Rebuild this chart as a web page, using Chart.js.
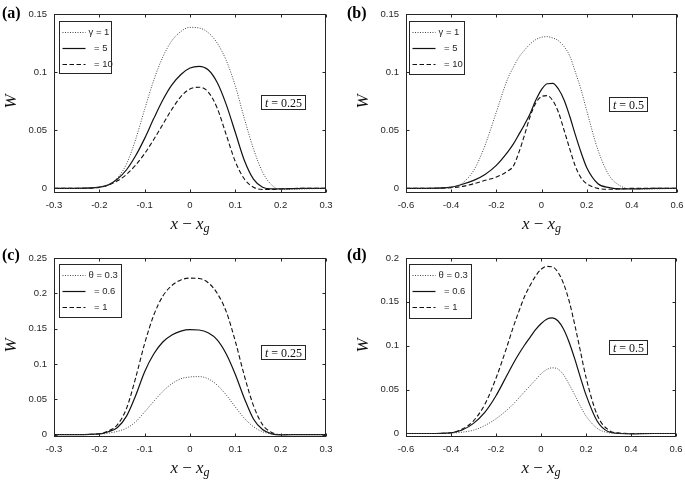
<!DOCTYPE html>
<html lang="en">
<head>
<meta charset="UTF-8">
<title>W profiles</title>
<script src="https://cdn.jsdelivr.net/npm/chart.js"></script>
<style>
  body { margin: 0; background: #fff; }
  #fig { position: relative; width: 685px; height: 480px; background: #fff; }
  #fig canvas { position: absolute; }
</style>
</head>
<body>
<div id="fig">
  <canvas id="panelA" width="342" height="240" style="left:0;top:0"></canvas>
  <canvas id="panelB" width="343" height="240" style="left:342px;top:0"></canvas>
  <canvas id="panelC" width="342" height="240" style="left:0;top:240px"></canvas>
  <canvas id="panelD" width="343" height="240" style="left:342px;top:240px"></canvas>
</div>
<script>
// sample positions x - x_g
const xNarrow = [-0.3, -0.25, -0.2, -0.18, -0.16, -0.14, -0.12, -0.1, -0.08, -0.06, -0.04, -0.02, 0,
  0.02, 0.04, 0.06, 0.08, 0.1, 0.12, 0.14, 0.16, 0.18, 0.2, 0.25, 0.3];
const xWide = [-0.6, -0.5, -0.4, -0.35, -0.3, -0.25, -0.2, -0.15, -0.125, -0.1, -0.075, -0.05, -0.025, 0,
  0.025, 0.05, 0.075, 0.1, 0.125, 0.15, 0.175, 0.2, 0.25, 0.3, 0.35, 0.4, 0.5, 0.6];

// (a) t = 0.25, gamma = 1, 5, 10
const wA_g1  = [0, 0, 0.001, 0.003, 0.009, 0.021, 0.042, 0.068, 0.093, 0.113, 0.127, 0.135, 0.1385,
  0.138, 0.134, 0.125, 0.11, 0.088, 0.06, 0.034, 0.014, 0.003, -0.001, -0.0005, 0];
const wA_g5  = [0, 0, 0.001, 0.003, 0.008, 0.016, 0.028, 0.043, 0.06, 0.076, 0.089, 0.098, 0.1035,
  0.105, 0.102, 0.091, 0.072, 0.048, 0.024, 0.008, 0.001, -0.0005, -0.0005, 0, 0];
const wA_g10 = [0, 0, 0.0008, 0.0028, 0.0065, 0.012, 0.02, 0.03, 0.042, 0.055, 0.068, 0.079, 0.0855,
  0.087, 0.083, 0.069, 0.046, 0.023, 0.008, 0.001, -0.001, -0.001, -0.0005, 0, 0];

// (b) t = 0.5, gamma = 1, 5, 10
const wB_g1  = [0, 0, 0.001, 0.0046, 0.0155, 0.037, 0.0656, 0.0942, 0.104, 0.1128, 0.119, 0.1242, 0.128, 0.13,
  0.1305, 0.1294, 0.127, 0.122, 0.114, 0.1, 0.085, 0.067, 0.033, 0.011, 0.002, -0.0006, -0.0005, 0];
const wB_g5  = [0, 0, 0.001, 0.0035, 0.0069, 0.012, 0.0198, 0.0312, 0.038, 0.0464, 0.055, 0.0645, 0.076, 0.085,
  0.09, 0.0903, 0.0855, 0.076, 0.062, 0.046, 0.031, 0.018, 0.004, 0.0006, -0.0005, -0.0005, 0, 0];
const wB_g10 = [0, 0, 0.0006, 0.0017, 0.004, 0.0069, 0.0097, 0.0149, 0.019, 0.031, 0.046, 0.062, 0.0735, 0.079,
  0.0798, 0.0755, 0.0655, 0.05, 0.034, 0.019, 0.009, 0.004, 0, -0.0008, -0.0005, 0, 0, 0];

// (c) t = 0.25, theta = 0.3, 0.6, 1
const wC_t03 = [0, 0, 0.0005, 0.002, 0.0045, 0.009, 0.018, 0.032, 0.047, 0.061, 0.072, 0.079, 0.0815,
  0.082, 0.079, 0.07, 0.056, 0.039, 0.023, 0.011, 0.004, 0.001, 0, 0, 0];
const wC_t06 = [0, 0, 0.001, 0.004, 0.01, 0.026, 0.055, 0.089, 0.114, 0.131, 0.141, 0.1465, 0.1485,
  0.148, 0.144, 0.134, 0.114, 0.085, 0.051, 0.022, 0.007, 0.001, -0.0005, 0, 0];
const wC_t1  = [0, 0, 0.001, 0.005, 0.014, 0.037, 0.08, 0.129, 0.169, 0.196, 0.211, 0.219, 0.2215,
  0.221, 0.215, 0.2, 0.174, 0.132, 0.083, 0.041, 0.014, 0.003, 0, 0, 0];

// (d) t = 0.5, theta = 0.3, 0.6, 1
const wD_t03 = [0, 0, 0.0005, 0.0015, 0.0038, 0.009, 0.0168, 0.027, 0.033, 0.04, 0.047, 0.054, 0.061, 0.068,
  0.0728, 0.0748, 0.0735, 0.067, 0.056, 0.044, 0.031, 0.02, 0.0058, 0.001, 0.0002, 0, 0, 0];
const wD_t06 = [0, 0, 0.0008, 0.004, 0.0115, 0.024, 0.043, 0.067, 0.079, 0.09, 0.1, 0.109, 0.118, 0.125,
  0.1302, 0.1318, 0.1285, 0.119, 0.104, 0.085, 0.064, 0.044, 0.014, 0.002, 0, -0.0004, 0, 0];
const wD_t1  = [0, 0, 0.0008, 0.005, 0.0145, 0.033, 0.063, 0.1, 0.12, 0.138, 0.155, 0.168, 0.179, 0.187,
  0.1905, 0.19, 0.184, 0.171, 0.151, 0.124, 0.094, 0.064, 0.021, 0.004, 0.0005, 0, 0, 0];

// ticks and labels
const xTicksNarrow = [-0.3, -0.2, -0.1, 0, 0.1, 0.2, 0.3];
const xTicksWide = [-0.6, -0.4, -0.2, 0, 0.2, 0.4, 0.6];
const yTicksAB = [0, 0.05, 0.1, 0.15];
const yTicksC = [0, 0.05, 0.1, 0.15, 0.2, 0.25];
const yTicksD = [0, 0.05, 0.1, 0.15, 0.2];
const gammaLabels = ['\u03b3 = 1', '= 5', '= 10'];
const thetaLabels = ['\u03b8 = 0.3', '= 0.6', '= 1'];
const timeLabels = ['0.25', '0.5'];

Chart.defaults.font.family = '"Liberation Sans", Arial, sans-serif';
Chart.defaults.color = '#262626';

const lineStyles = [
  { borderColor: '#444', borderWidth: 1, borderDash: [1, 1.5] },
  { borderColor: '#111', borderWidth: 1.2, borderDash: [] },
  { borderColor: '#111', borderWidth: 1.1, borderDash: [4.5, 2.5] }
];

// box, inward ticks, legend, time note, axis titles
const panelFrame = {
  id: 'panelFrame',
  afterDraw(chart, args, o) {
    const { ctx, chartArea: a, scales: { x, y } } = chart;
    const L = Math.round(a.left) + 0.5, R = Math.round(a.right) - 0.5;
    const T = Math.round(a.top) + 0.5, B = Math.round(a.bottom) - 0.5;
    ctx.save();
    ctx.strokeStyle = '#262626';
    ctx.lineWidth = 1;
    ctx.beginPath();
    x.ticks.forEach(t => {
      const p = Math.round(x.getPixelForValue(t.value)) + 0.5;
      ctx.moveTo(p, B); ctx.lineTo(p, B - 3);
      ctx.moveTo(p, T); ctx.lineTo(p, T + 3);
    });
    y.ticks.forEach(t => {
      const p = Math.round(y.getPixelForValue(t.value)) + 0.5;
      ctx.moveTo(L, p); ctx.lineTo(L + 3, p);
      ctx.moveTo(R, p); ctx.lineTo(R - 3, p);
    });
    ctx.stroke();
    ctx.strokeRect(L, T, R - L, B - T);

    // legend
    const lg = o.legend;
    const bx = Math.round(a.left + lg.dx) + 0.5, by = Math.round(a.top + lg.dy) + 0.5;
    ctx.fillStyle = '#fff';
    ctx.fillRect(bx, by, lg.w, lg.h);
    ctx.strokeRect(bx, by, lg.w, lg.h);
    ctx.font = '9.5px "Liberation Sans"';
    ctx.textBaseline = 'middle';
    ctx.textAlign = 'left';
    chart.data.datasets.forEach((ds, i) => {
      const ry = by + [11, 27, 43][i];
      ctx.save();
      ctx.strokeStyle = ds.borderColor;
      ctx.lineWidth = ds.borderWidth;
      ctx.setLineDash(ds.borderDash);
      ctx.beginPath();
      ctx.moveTo(bx + 3, ry); ctx.lineTo(bx + 26, ry);
      ctx.stroke();
      ctx.restore();
      ctx.fillStyle = '#262626';
      ctx.fillText(ds.label, bx + (i === 0 ? 29 : 34.5), ry);
    });

    // time note
    const nt = o.note;
    ctx.font = 'italic 12px "Liberation Serif"';
    const w1 = ctx.measureText('t').width;
    ctx.font = '12px "Liberation Serif"';
    const w2 = ctx.measureText(' = ' + nt.text).width;
    const nx = Math.round(a.left + nt.dx) + 0.5, ny = Math.round(a.top + nt.dy) + 0.5;
    const nw = Math.round(w1 + w2 + 7), nh = 14;
    ctx.fillStyle = '#fff';
    ctx.fillRect(nx, ny, nw, nh);
    ctx.strokeRect(nx, ny, nw, nh);
    ctx.fillStyle = '#111';
    ctx.textBaseline = 'alphabetic';
    ctx.font = 'italic 12px "Liberation Serif"';
    ctx.fillText('t', nx + 3.5, ny + 11);
    ctx.font = '12px "Liberation Serif"';
    ctx.fillText(' = ' + nt.text, nx + 3.5 + w1, ny + 11);

    // y title
    ctx.save();
    ctx.translate(a.left - 42, (a.top + a.bottom) / 2 - 2);
    ctx.rotate(-Math.PI / 2);
    ctx.font = 'italic 17px "Liberation Serif"';
    ctx.textAlign = 'center';
    ctx.textBaseline = 'middle';
    ctx.fillText('W', 0, 0);
    ctx.restore();

    // x title: x - x_g
    const parts = [
      ['x', 'italic 17px "Liberation Serif"', 0],
      [' \u2212 ', '17px "Liberation Serif"', 0],
      ['x', 'italic 17px "Liberation Serif"', 0],
      ['g', 'italic 12px "Liberation Serif"', 3]
    ];
    let total = 0;
    parts.forEach(p => { ctx.font = p[1]; total += ctx.measureText(p[0]).width; });
    let cx = (a.left + a.right) / 2 - total / 2;
    const base = a.bottom + 36;
    ctx.textAlign = 'left';
    ctx.textBaseline = 'alphabetic';
    parts.forEach(p => {
      ctx.font = p[1];
      ctx.fillText(p[0], cx, base + p[2]);
      cx += ctx.measureText(p[0]).width;
    });

    // panel label
    ctx.font = 'bold 16px "Liberation Serif"';
    ctx.fillStyle = '#000';
    ctx.fillText(o.tag, o.tagX, o.tagY);
    ctx.restore();
  }
};

function makePanel(id, xs, series, labels, cfg) {
  const datasets = series.map((vals, i) => Object.assign({
    label: labels[i],
    data: xs.map((xv, k) => ({ x: xv, y: vals[k] })),
    pointRadius: 0,
    fill: false,
    cubicInterpolationMode: 'monotone'
  }, lineStyles[i]));
  const canvas = document.getElementById(id);
  return new Chart(canvas, {
    type: 'line',
    data: { datasets },
    options: {
      responsive: false,
      animation: false,
      devicePixelRatio: 1,
      layout: { padding: { left: 0, top: cfg.top, right: canvas.width - cfg.right, bottom: 0 } },
      plugins: {
        legend: { display: false },
        tooltip: { enabled: false },
        panelFrame: { legend: cfg.legend, note: cfg.note, tag: cfg.tag, tagX: cfg.tagX, tagY: cfg.tagY }
      },
      scales: {
        x: {
          type: 'linear',
          min: cfg.xTicks[0],
          max: cfg.xTicks[cfg.xTicks.length - 1],
          grid: { display: false, drawTicks: false },
          border: { display: false },
          ticks: { padding: 7, font: { size: 9.5 }, color: '#262626', callback: v => String(+v.toFixed(2)) },
          afterBuildTicks: s => { s.ticks = cfg.xTicks.map(v => ({ value: v })); },
          afterFit: s => { s.height = canvas.height - cfg.bottom; s.paddingLeft = 0; s.paddingRight = 0; }
        },
        y: {
          type: 'linear',
          min: cfg.yMin,
          max: cfg.yTicks[cfg.yTicks.length - 1],
          grid: { display: false, drawTicks: false },
          border: { display: false },
          ticks: { padding: 7, font: { size: 9.5 }, color: '#262626', callback: v => String(+v.toFixed(2)) },
          afterBuildTicks: s => { s.ticks = cfg.yTicks.map(v => ({ value: v })); },
          afterFit: s => { s.width = cfg.left; s.paddingTop = 0; s.paddingBottom = 0; }
        }
      }
    },
    plugins: [panelFrame]
  });
}

makePanel('panelA', xNarrow, [wA_g1, wA_g5, wA_g10], gammaLabels, {
  left: 54, right: 326, top: 14, bottom: 193, yMin: -0.004,
  xTicks: xTicksNarrow, yTicks: yTicksAB,
  legend: { dx: 5, dy: 7, w: 52, h: 52 },
  note: { dx: 207, dy: 81, text: timeLabels[0] },
  tag: '(a)', tagX: 2, tagY: 18
});
makePanel('panelB', xWide, [wB_g1, wB_g5, wB_g10], gammaLabels, {
  left: 64, right: 335, top: 14, bottom: 193, yMin: -0.004,
  xTicks: xTicksWide, yTicks: yTicksAB,
  legend: { dx: 3, dy: 7, w: 55, h: 53 },
  note: { dx: 203, dy: 83, text: timeLabels[1] },
  tag: '(b)', tagX: 5, tagY: 18
});
makePanel('panelC', xNarrow, [wC_t03, wC_t06, wC_t1], thetaLabels, {
  left: 54, right: 326, top: 18, bottom: 197, yMin: -0.0035,
  xTicks: xTicksNarrow, yTicks: yTicksC,
  legend: { dx: 5, dy: 6, w: 62, h: 53 },
  note: { dx: 207, dy: 87, text: timeLabels[0] },
  tag: '(c)', tagX: 2, tagY: 20
});
makePanel('panelD', xWide, [wD_t03, wD_t06, wD_t1], thetaLabels, {
  left: 64, right: 334, top: 18, bottom: 197, yMin: -0.004,
  xTicks: xTicksWide, yTicks: yTicksD,
  legend: { dx: 3, dy: 6, w: 62, h: 54 },
  note: { dx: 203, dy: 82, text: timeLabels[1] },
  tag: '(d)', tagX: 5, tagY: 20
});
</script>
</body>
</html>
